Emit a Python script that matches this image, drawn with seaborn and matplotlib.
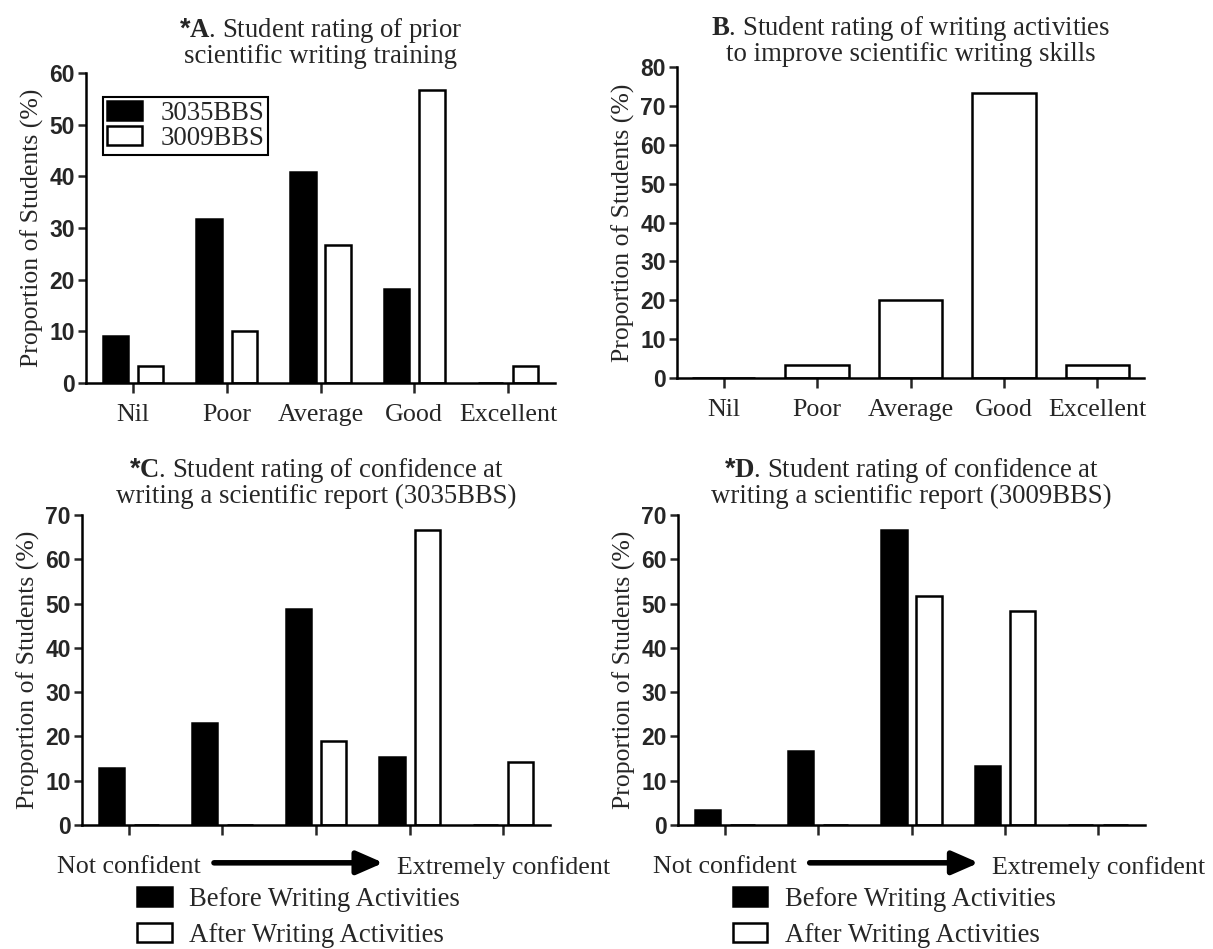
import numpy as np
import pandas as pd
import matplotlib
matplotlib.use("Agg")
import matplotlib.pyplot as plt
import matplotlib.transforms as mtransforms
import seaborn as sns

# ---------------- data ----------------
rating_cats = ["Nil", "Poor", "Average", "Good", "Excellent"]
a_3035 = [9.1, 31.8, 40.9, 18.2, 0.0]
a_3009 = [3.3, 10.0, 26.7, 56.7, 3.3]
b_vals = [0.0, 3.3, 20.0, 73.3, 3.3]

conf_levels = ["1", "2", "3", "4", "5"]
conf_ticklabels = ["Not confident", "", "", "", "Extremely confident"]
c_before = [12.8, 23.1, 48.7, 15.4, 0.0]
c_after = [0.0, 0.0, 19.0, 66.7, 14.3]
d_before = [3.3, 16.7, 66.7, 13.3, 0.0]
d_after = [0.0, 0.0, 51.7, 48.3, 0.0]

grp_A = ["3035BBS", "3009BBS"]
grp_CD = ["Before Writing Activities", "After Writing Activities"]

titles = [
    r"$\mathsf{*}\mathbf{A}$. Student rating of prior" + "\n" + "scientific writing training",
    r"$\mathbf{B}$. Student rating of writing activities" + "\n" + "to improve scientific writing skills",
    r"$\mathsf{*}\mathbf{C}$. Student rating of confidence at" + "\n" + "writing a scientific report (3035BBS)",
    r"$\mathsf{*}\mathbf{D}$. Student rating of confidence at" + "\n" + "writing a scientific report (3009BBS)",
]
ylabel = "Proportion of Students (%)"

# ---------------- style ----------------
sns.set_theme(style="ticks")
plt.rcParams["font.family"] = ["Liberation Serif", "DejaVu Serif"]
plt.rcParams["mathtext.fontset"] = "custom"
plt.rcParams["mathtext.rm"] = "Liberation Serif"
plt.rcParams["mathtext.bf"] = "Liberation Serif:bold"
plt.rcParams["mathtext.sf"] = "Liberation Sans:bold"
plt.rcParams["axes.linewidth"] = 1.8
plt.rcParams["axes.edgecolor"] = "black"

W, H = 1213, 949
fig = plt.figure(figsize=(W / 100, H / 100), dpi=100)


def add_ax(l, r, t, b):
    return fig.add_axes([l / W, 1 - b / H, (r - l) / W, (b - t) / H])


axA = add_ax(86, 555, 73, 383)
axB = add_ax(677, 1144, 67, 378)
axC = add_ax(82, 550, 515, 825)
axD = add_ax(678, 1145, 515, 825)

LW = 1.8
TFS = 19.3
TICKFS = 16.5
CATFS = 18.7
LEGFS = 19.3
YLFS = 18.5


def grouped(ax, cats, s1, s2, names):
    df = pd.DataFrame({
        "cat": list(cats) * 2,
        "val": list(s1) + list(s2),
        "grp": [names[0]] * len(cats) + [names[1]] * len(cats),
    })
    sns.barplot(data=df, x="cat", y="val", hue="grp", order=list(cats),
                hue_order=names, palette=["black", "white"], saturation=1,
                edgecolor="black", linewidth=LW, width=0.75, gap=0.28,
                errorbar=None, ax=ax)


def style_axis(ax, ymax, title, pad, xpad):
    sns.despine(ax=ax)
    ax.set_ylim(0, ymax)
    ax.set_yticks(np.arange(0, ymax + 1, 10))
    ax.set_xlim(-0.5, 4.5)
    ax.set_xlabel("")
    ax.set_ylabel(ylabel, fontsize=YLFS, labelpad=4)
    ax.tick_params(axis="y", direction="out", length=6, width=LW, pad=2,
                   labelsize=TICKFS)
    ax.tick_params(axis="x", direction="out", length=7, width=LW, pad=xpad,
                   labelsize=CATFS)
    for lab in ax.get_yticklabels():
        lab.set_fontfamily("Liberation Sans")
        lab.set_fontweight("bold")
    ax.set_title(title, fontsize=TFS, pad=pad, linespacing=0.95)


# Panel A
grouped(axA, rating_cats, a_3035, a_3009, grp_A)
style_axis(axA, 60, titles[0], 7.5, 8)
h, l = axA.get_legend_handles_labels()
leg = axA.legend(h, l, loc="upper left", bbox_to_anchor=(0.036, 0.923),
                 borderaxespad=0, frameon=True, fancybox=False, edgecolor="black",
                 framealpha=1, fontsize=LEGFS, handlelength=1.3, handleheight=0.7,
                 handletextpad=0.7, labelspacing=0.0, borderpad=0.15)
leg.get_frame().set_linewidth(1.5)

# Panel B
sns.barplot(x=rating_cats, y=b_vals, order=rating_cats, color="white",
            saturation=1, edgecolor="black", linewidth=LW, width=0.68,
            errorbar=None, ax=axB)
style_axis(axB, 80, titles[1], 3, 8)

# Panels C, D
for ax, before, after, title in [(axC, c_before, c_after, titles[2]),
                                 (axD, d_before, d_after, titles[3])]:
    grouped(ax, conf_levels, before, after, grp_CD)
    style_axis(ax, 70, title, 8.5, 15)
    ax.set_xticks(range(len(conf_levels)))
    ax.set_xticklabels(conf_ticklabels, fontsize=CATFS)
    h, l = ax.get_legend_handles_labels()
    ax.legend(h, l, loc="upper left", bbox_to_anchor=(0.117, -0.2),
              borderaxespad=0, frameon=False, fontsize=LEGFS,
              handlelength=1.3, handleheight=0.7, handletextpad=0.65,
              labelspacing=0.42, borderpad=0)
    trans = mtransforms.blended_transform_factory(ax.transData, ax.transAxes)
    ax.annotate("", xy=(2.72, -0.122), xytext=(0.91, -0.122),
                xycoords=trans, textcoords=trans, annotation_clip=False,
                arrowprops=dict(arrowstyle="-|>,head_length=0.8,head_width=0.35",
                                lw=4, color="black", shrinkA=0, shrinkB=0,
                                mutation_scale=20))

fig.savefig("out.png", dpi=100, facecolor="white")
